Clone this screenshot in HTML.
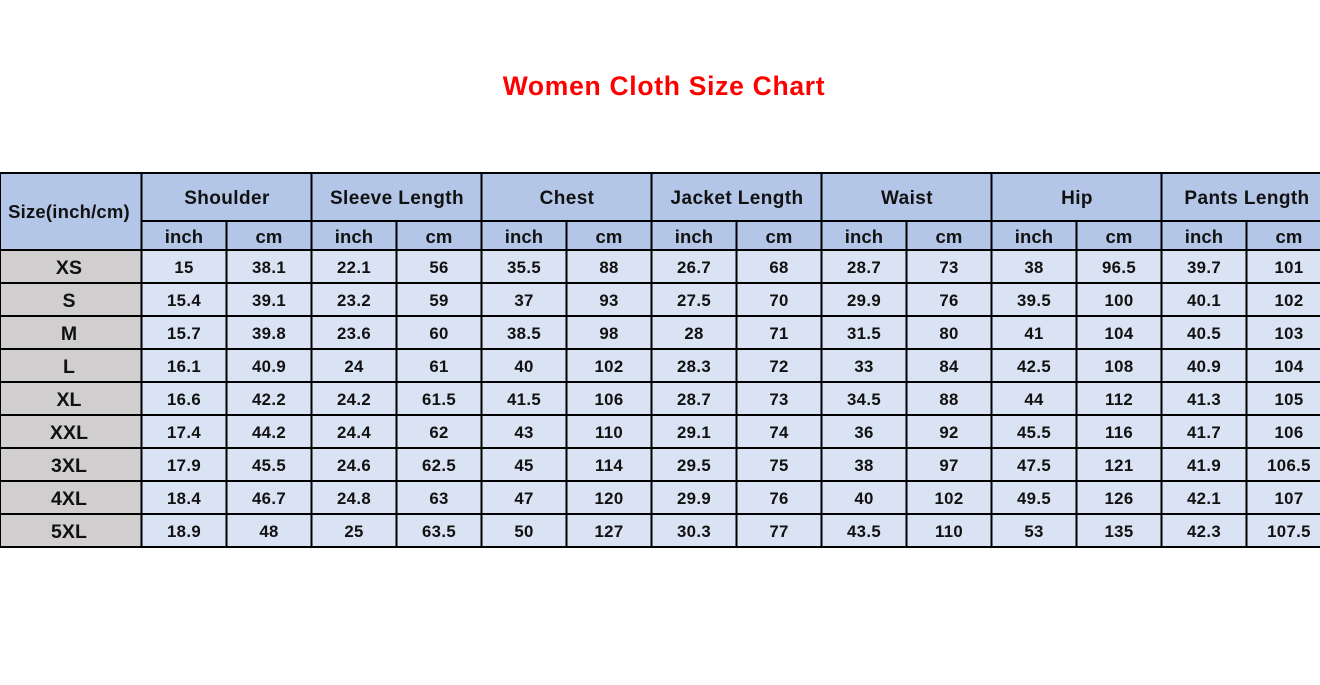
<!DOCTYPE html>
<html>
<head>
<meta charset="utf-8">
<style>
html,body{margin:0;padding:0;background:#fff;}
svg{display:block;}
text{font-family:"Liberation Sans",Arial,sans-serif;font-weight:bold;fill:#111;}
.t{fill:#ff0000;font-size:26.5px;letter-spacing:0.7px;}
.h1{font-size:19px;letter-spacing:0.4px;}
.h2{font-size:18.5px;letter-spacing:0.1px;}
.sz{font-size:19.5px;letter-spacing:0.1px;}
.d{font-size:16.8px;letter-spacing:0.35px;}
.lab{font-size:18.5px;letter-spacing:0.2px;}
</style>
</head>
<body>
<svg width="1320" height="685" viewBox="0 0 1320 685" xmlns="http://www.w3.org/2000/svg">
<rect x="0" y="0" width="1320" height="685" fill="#fff"/>
<text class="t" x="664" y="95" text-anchor="middle">Women Cloth Size Chart</text>

<rect x="0" y="173" width="1320" height="77" fill="#b4c6e7"/>
<rect x="0" y="250" width="141" height="297" fill="#d0cece"/>
<rect x="141" y="250" width="1179" height="297" fill="#dae3f3"/>

<g stroke="#000" stroke-width="2" fill="none">
<line x1="0" y1="173" x2="1320" y2="173"/>
<line x1="141" y1="221" x2="1320" y2="221"/>
<line x1="0" y1="250" x2="1320" y2="250"/>
<line x1="0" y1="283" x2="1320" y2="283"/>
<line x1="0" y1="316" x2="1320" y2="316"/>
<line x1="0" y1="349" x2="1320" y2="349"/>
<line x1="0" y1="382" x2="1320" y2="382"/>
<line x1="0" y1="415" x2="1320" y2="415"/>
<line x1="0" y1="448" x2="1320" y2="448"/>
<line x1="0" y1="481" x2="1320" y2="481"/>
<line x1="0" y1="514" x2="1320" y2="514"/>
<line x1="0" y1="547" x2="1320" y2="547"/>
<line x1="141.5" y1="172" x2="141.5" y2="548"/>
<line x1="311.5" y1="172" x2="311.5" y2="548"/>
<line x1="481.5" y1="172" x2="481.5" y2="548"/>
<line x1="651.5" y1="172" x2="651.5" y2="548"/>
<line x1="821.5" y1="172" x2="821.5" y2="548"/>
<line x1="991.5" y1="172" x2="991.5" y2="548"/>
<line x1="1161.5" y1="172" x2="1161.5" y2="548"/>
<line x1="226.5" y1="221" x2="226.5" y2="548"/>
<line x1="396.5" y1="221" x2="396.5" y2="548"/>
<line x1="566.5" y1="221" x2="566.5" y2="548"/>
<line x1="736.5" y1="221" x2="736.5" y2="548"/>
<line x1="906.5" y1="221" x2="906.5" y2="548"/>
<line x1="1076.5" y1="221" x2="1076.5" y2="548"/>
<line x1="1246.5" y1="221" x2="1246.5" y2="548"/>
</g>
<line x1="0.5" y1="172" x2="0.5" y2="548" stroke="#000" stroke-width="1"/>

<text class="lab" x="69" y="218" text-anchor="middle">Size(inch/cm)</text>

<g text-anchor="middle">
<text class="h1" x="227" y="204">Shoulder</text>
<text class="h1" x="397" y="204">Sleeve Length</text>
<text class="h1" x="567" y="204">Chest</text>
<text class="h1" x="737" y="204">Jacket Length</text>
<text class="h1" x="907" y="204">Waist</text>
<text class="h1" x="1077" y="204">Hip</text>
<text class="h1" x="1247" y="204">Pants Length</text>
</g>

<g text-anchor="middle">
<text class="h2" x="184" y="243">inch</text><text class="h2" x="269" y="243">cm</text>
<text class="h2" x="354" y="243">inch</text><text class="h2" x="439" y="243">cm</text>
<text class="h2" x="524" y="243">inch</text><text class="h2" x="609" y="243">cm</text>
<text class="h2" x="694" y="243">inch</text><text class="h2" x="779" y="243">cm</text>
<text class="h2" x="864" y="243">inch</text><text class="h2" x="949" y="243">cm</text>
<text class="h2" x="1034" y="243">inch</text><text class="h2" x="1119" y="243">cm</text>
<text class="h2" x="1204" y="243">inch</text><text class="h2" x="1289" y="243">cm</text>
</g>

<g text-anchor="middle">
<text class="sz" x="69" y="274">XS</text>
<text class="sz" x="69" y="307">S</text>
<text class="sz" x="69" y="340">M</text>
<text class="sz" x="69" y="373">L</text>
<text class="sz" x="69" y="406">XL</text>
<text class="sz" x="69" y="439">XXL</text>
<text class="sz" x="69" y="472">3XL</text>
<text class="sz" x="69" y="505">4XL</text>
<text class="sz" x="69" y="538">5XL</text>
</g>

<g text-anchor="middle">
<!-- XS -->
<text class="d" x="184" y="273">15</text><text class="d" x="269" y="273">38.1</text>
<text class="d" x="354" y="273">22.1</text><text class="d" x="439" y="273">56</text>
<text class="d" x="524" y="273">35.5</text><text class="d" x="609" y="273">88</text>
<text class="d" x="694" y="273">26.7</text><text class="d" x="779" y="273">68</text>
<text class="d" x="864" y="273">28.7</text><text class="d" x="949" y="273">73</text>
<text class="d" x="1034" y="273">38</text><text class="d" x="1119" y="273">96.5</text>
<text class="d" x="1204" y="273">39.7</text><text class="d" x="1289" y="273">101</text>
<!-- S -->
<text class="d" x="184" y="306">15.4</text><text class="d" x="269" y="306">39.1</text>
<text class="d" x="354" y="306">23.2</text><text class="d" x="439" y="306">59</text>
<text class="d" x="524" y="306">37</text><text class="d" x="609" y="306">93</text>
<text class="d" x="694" y="306">27.5</text><text class="d" x="779" y="306">70</text>
<text class="d" x="864" y="306">29.9</text><text class="d" x="949" y="306">76</text>
<text class="d" x="1034" y="306">39.5</text><text class="d" x="1119" y="306">100</text>
<text class="d" x="1204" y="306">40.1</text><text class="d" x="1289" y="306">102</text>
<!-- M -->
<text class="d" x="184" y="339">15.7</text><text class="d" x="269" y="339">39.8</text>
<text class="d" x="354" y="339">23.6</text><text class="d" x="439" y="339">60</text>
<text class="d" x="524" y="339">38.5</text><text class="d" x="609" y="339">98</text>
<text class="d" x="694" y="339">28</text><text class="d" x="779" y="339">71</text>
<text class="d" x="864" y="339">31.5</text><text class="d" x="949" y="339">80</text>
<text class="d" x="1034" y="339">41</text><text class="d" x="1119" y="339">104</text>
<text class="d" x="1204" y="339">40.5</text><text class="d" x="1289" y="339">103</text>
<!-- L -->
<text class="d" x="184" y="372">16.1</text><text class="d" x="269" y="372">40.9</text>
<text class="d" x="354" y="372">24</text><text class="d" x="439" y="372">61</text>
<text class="d" x="524" y="372">40</text><text class="d" x="609" y="372">102</text>
<text class="d" x="694" y="372">28.3</text><text class="d" x="779" y="372">72</text>
<text class="d" x="864" y="372">33</text><text class="d" x="949" y="372">84</text>
<text class="d" x="1034" y="372">42.5</text><text class="d" x="1119" y="372">108</text>
<text class="d" x="1204" y="372">40.9</text><text class="d" x="1289" y="372">104</text>
<!-- XL -->
<text class="d" x="184" y="405">16.6</text><text class="d" x="269" y="405">42.2</text>
<text class="d" x="354" y="405">24.2</text><text class="d" x="439" y="405">61.5</text>
<text class="d" x="524" y="405">41.5</text><text class="d" x="609" y="405">106</text>
<text class="d" x="694" y="405">28.7</text><text class="d" x="779" y="405">73</text>
<text class="d" x="864" y="405">34.5</text><text class="d" x="949" y="405">88</text>
<text class="d" x="1034" y="405">44</text><text class="d" x="1119" y="405">112</text>
<text class="d" x="1204" y="405">41.3</text><text class="d" x="1289" y="405">105</text>
<!-- XXL -->
<text class="d" x="184" y="438">17.4</text><text class="d" x="269" y="438">44.2</text>
<text class="d" x="354" y="438">24.4</text><text class="d" x="439" y="438">62</text>
<text class="d" x="524" y="438">43</text><text class="d" x="609" y="438">110</text>
<text class="d" x="694" y="438">29.1</text><text class="d" x="779" y="438">74</text>
<text class="d" x="864" y="438">36</text><text class="d" x="949" y="438">92</text>
<text class="d" x="1034" y="438">45.5</text><text class="d" x="1119" y="438">116</text>
<text class="d" x="1204" y="438">41.7</text><text class="d" x="1289" y="438">106</text>
<!-- 3XL -->
<text class="d" x="184" y="471">17.9</text><text class="d" x="269" y="471">45.5</text>
<text class="d" x="354" y="471">24.6</text><text class="d" x="439" y="471">62.5</text>
<text class="d" x="524" y="471">45</text><text class="d" x="609" y="471">114</text>
<text class="d" x="694" y="471">29.5</text><text class="d" x="779" y="471">75</text>
<text class="d" x="864" y="471">38</text><text class="d" x="949" y="471">97</text>
<text class="d" x="1034" y="471">47.5</text><text class="d" x="1119" y="471">121</text>
<text class="d" x="1204" y="471">41.9</text><text class="d" x="1289" y="471">106.5</text>
<!-- 4XL -->
<text class="d" x="184" y="504">18.4</text><text class="d" x="269" y="504">46.7</text>
<text class="d" x="354" y="504">24.8</text><text class="d" x="439" y="504">63</text>
<text class="d" x="524" y="504">47</text><text class="d" x="609" y="504">120</text>
<text class="d" x="694" y="504">29.9</text><text class="d" x="779" y="504">76</text>
<text class="d" x="864" y="504">40</text><text class="d" x="949" y="504">102</text>
<text class="d" x="1034" y="504">49.5</text><text class="d" x="1119" y="504">126</text>
<text class="d" x="1204" y="504">42.1</text><text class="d" x="1289" y="504">107</text>
<!-- 5XL -->
<text class="d" x="184" y="537">18.9</text><text class="d" x="269" y="537">48</text>
<text class="d" x="354" y="537">25</text><text class="d" x="439" y="537">63.5</text>
<text class="d" x="524" y="537">50</text><text class="d" x="609" y="537">127</text>
<text class="d" x="694" y="537">30.3</text><text class="d" x="779" y="537">77</text>
<text class="d" x="864" y="537">43.5</text><text class="d" x="949" y="537">110</text>
<text class="d" x="1034" y="537">53</text><text class="d" x="1119" y="537">135</text>
<text class="d" x="1204" y="537">42.3</text><text class="d" x="1289" y="537">107.5</text>
</g>
</svg>
</body>
</html>
